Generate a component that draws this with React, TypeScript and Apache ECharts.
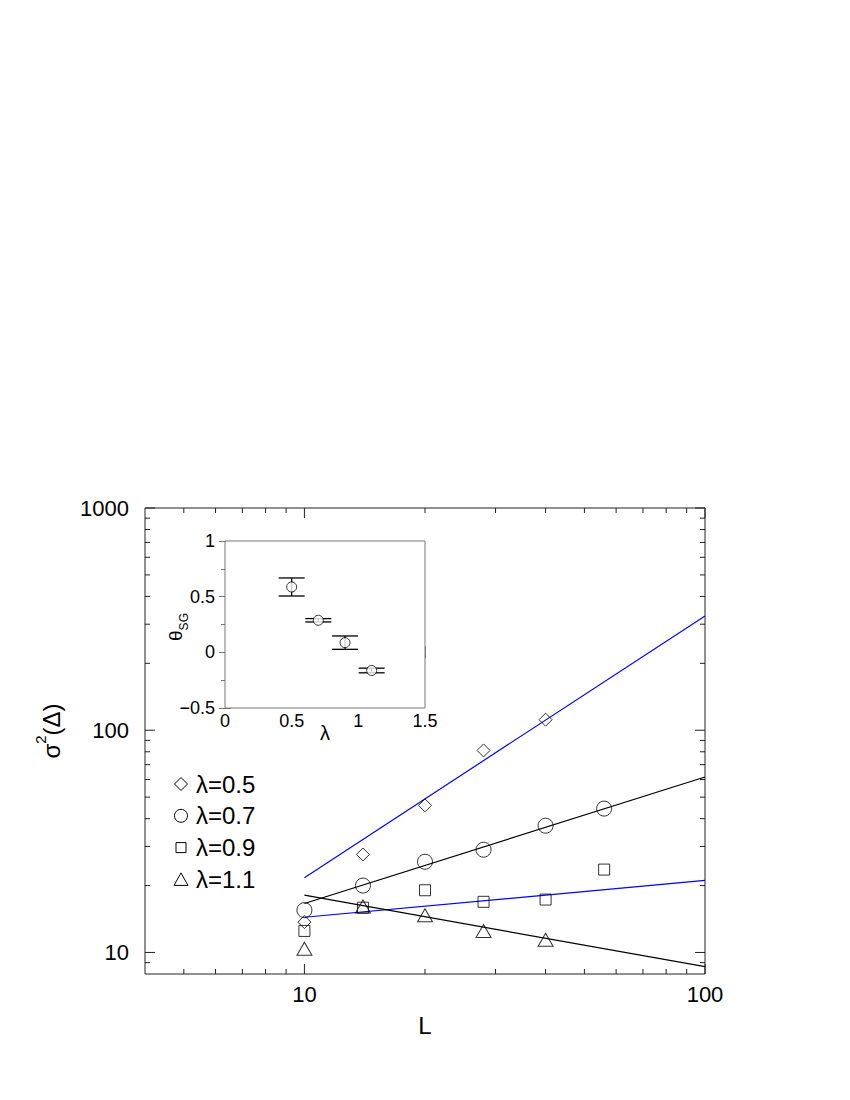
import React, { useEffect, useRef } from "react";
import * as echarts from "echarts";

// ---- data ----
const L_VALUES = [10, 14, 20, 28, 40, 56];
const SIGMA_L05 = [13.7, 27.6, 45.9, 81.1, 111.5];
const SIGMA_L07 = [15.5, 20.0, 25.6, 29.0, 37.2, 44.4];
const SIGMA_L09 = [12.5, 15.9, 19.05, 16.9, 17.3, 23.6];
const SIGMA_L11 = [10.4, 16.1, 14.7, 12.5, 11.4];

const FIT_L = [10, 100];
const FIT_L05 = [21.7, 327];
const FIT_L07 = [16.6, 61.6];
const FIT_L09 = [14.4, 21.1];
const FIT_L11 = [18.1, 8.63];

const LAMBDAS = [0.5, 0.7, 0.9, 1.1];
const THETA = [0.587, 0.288, 0.087, -0.163];
const THETA_ERR = [0.081, 0.015, 0.06, 0.021];

const SERIES_NAMES = ["λ=0.5", "λ=0.7", "λ=0.9", "λ=1.1"];

const X_RANGE = [4, 100];
const Y_RANGE = [8, 1000];
const X_MAJOR = [10, 100];
const X_MINOR = [5, 6, 7, 8, 9, 20, 30, 40, 50, 60, 70, 80, 90];
const Y_MAJOR = [10, 100, 1000];
const Y_MINOR = [9, 20, 30, 40, 50, 60, 70, 80, 90, 200, 300, 400, 500, 600, 700, 800, 900];

const FONT = "'Liberation Sans', Arial, Helvetica, sans-serif";
const TICK = "#222";
const INSET_GRAY = "#777";

function pairs(xs: number[], ys: number[]) {
  return ys.map((y, i) => [xs[i], y]);
}

function powLabel(v: number) {
  const e = Math.log10(v);
  return Math.abs(e - Math.round(e)) < 1e-6 ? String(Math.round(v)) : "";
}

function xTickSeries(values: number[], len: number) {
  return {
    type: "custom",
    xAxisIndex: 0,
    yAxisIndex: 0,
    silent: true,
    clip: false,
    z: 5,
    data: values.map((v) => [v, Y_RANGE[0]]),
    renderItem: (_p: any, api: any) => {
      const v = api.value(0);
      const b = api.coord([v, Y_RANGE[0]]);
      const t = api.coord([v, Y_RANGE[1]]);
      return {
        type: "group",
        children: [
          { type: "line", shape: { x1: b[0], y1: b[1], x2: b[0], y2: b[1] - len }, style: { stroke: TICK, lineWidth: 1 } },
          { type: "line", shape: { x1: t[0], y1: t[1], x2: t[0], y2: t[1] + len }, style: { stroke: TICK, lineWidth: 1 } },
        ],
      };
    },
  };
}

function yTickSeries(values: number[], len: number) {
  return {
    type: "custom",
    xAxisIndex: 0,
    yAxisIndex: 0,
    silent: true,
    clip: false,
    z: 5,
    data: values.map((v) => [X_RANGE[0], v]),
    renderItem: (_p: any, api: any) => {
      const v = api.value(1);
      const l = api.coord([X_RANGE[0], v]);
      const r = api.coord([X_RANGE[1], v]);
      return {
        type: "group",
        children: [
          { type: "line", shape: { x1: l[0], y1: l[1], x2: l[0] + len, y2: l[1] }, style: { stroke: TICK, lineWidth: 1 } },
          { type: "line", shape: { x1: r[0], y1: r[1], x2: r[0] - len, y2: r[1] }, style: { stroke: TICK, lineWidth: 1 } },
        ],
      };
    },
  };
}

const MARKER_STYLE = { color: "transparent", borderColor: "#000", borderWidth: 1 };

function legendGraphics() {
  const cx = 181;
  const x0 = 196;
  const y0 = 784;
  const dy = 31.8;
  const out: any[] = [];
  SERIES_NAMES.forEach((name, i) => {
    const cy = y0 + i * dy;
    const st = { fill: "none", stroke: "#000", lineWidth: 1 };
    let sym: any;
    if (i === 0) sym = { type: "polygon", shape: { points: [[cx, cy - 6.5], [cx + 6.5, cy], [cx, cy + 6.5], [cx - 6.5, cy]] }, style: st };
    else if (i === 1) sym = { type: "circle", shape: { cx, cy, r: 6.5 }, style: st };
    else if (i === 2) sym = { type: "rect", shape: { x: cx - 5, y: cy - 5, width: 10, height: 10 }, style: st };
    else sym = { type: "polygon", shape: { points: [[cx, cy - 6.5], [cx + 7, cy + 6], [cx - 7, cy + 6]] }, style: st };
    out.push(sym);
    out.push({
      type: "text",
      x: x0,
      y: cy,
      style: { text: name, fontSize: 24, fontFamily: FONT, fill: "#000", align: "left", verticalAlign: "middle" },
    });
  });
  return out;
}

export default function App() {
  const ref = useRef<HTMLDivElement>(null);
  useEffect(() => {
    if (!ref.current) return;
    const chart = echarts.init(ref.current, undefined, { renderer: "svg" });
    const mainLabel = { fontSize: 22, color: "#000", fontFamily: FONT };
    const insetLabel = { fontSize: 18, color: "#000", fontFamily: FONT };
    const insetFmt = (v: number) => String(v).replace("-", "\u2212");
    const option: any = {
      animation: false,
      backgroundColor: "#fff",
      grid: [
        { left: 145, top: 508, width: 560, height: 466, show: true, borderColor: "#222", borderWidth: 1, backgroundColor: "transparent" },
        { left: 225, top: 541, width: 200, height: 167, show: true, borderColor: INSET_GRAY, borderWidth: 1, backgroundColor: "#fff", z: 3 },
      ],
      xAxis: [
        {
          type: "log", logBase: 10, gridIndex: 0, min: X_RANGE[0], max: X_RANGE[1],
          axisLine: { show: false }, axisTick: { show: false }, splitLine: { show: false },
          axisLabel: { ...mainLabel, margin: 9, formatter: powLabel },
        },
        {
          type: "value", gridIndex: 1, min: 0, max: 1.5, interval: 0.5, position: "bottom",
          axisLine: { show: false }, splitLine: { show: false },
          axisTick: { inside: true, length: 6, lineStyle: { color: INSET_GRAY } },
          minorTick: { show: true, splitNumber: 5, length: 4, lineStyle: { color: INSET_GRAY } },
          axisLabel: { ...insetLabel, margin: 4, formatter: insetFmt },
        },
        {
          type: "value", gridIndex: 1, min: 0, max: 1.5, interval: 0.5, position: "top",
          axisLine: { show: false }, splitLine: { show: false },
          axisTick: { inside: true, length: 6, lineStyle: { color: INSET_GRAY } },
          minorTick: { show: true, splitNumber: 5, length: 4, lineStyle: { color: INSET_GRAY } },
          axisLabel: { show: false },
        },
      ],
      yAxis: [
        {
          type: "log", logBase: 10, gridIndex: 0, min: Y_RANGE[0], max: Y_RANGE[1],
          axisLine: { show: false }, axisTick: { show: false }, splitLine: { show: false },
          axisLabel: { ...mainLabel, margin: 16, formatter: powLabel },
        },
        {
          type: "value", gridIndex: 1, min: -0.5, max: 1, interval: 0.5, position: "left",
          axisLine: { show: false }, splitLine: { show: false },
          axisTick: { inside: true, length: 6, lineStyle: { color: INSET_GRAY } },
          minorTick: { show: true, splitNumber: 2, length: 4, lineStyle: { color: INSET_GRAY } },
          axisLabel: { ...insetLabel, margin: 10, formatter: insetFmt },
        },
        {
          type: "value", gridIndex: 1, min: -0.5, max: 1, interval: 0.5, position: "right",
          axisLine: { show: false }, splitLine: { show: false },
          axisTick: { inside: true, length: 6, lineStyle: { color: INSET_GRAY } },
          minorTick: { show: true, splitNumber: 2, length: 4, lineStyle: { color: INSET_GRAY } },
          axisLabel: { show: false },
        },
      ],
      graphic: [
        ...legendGraphics(),
        {
          type: "text", x: 425, y: 1025,
          style: { text: "L", fontSize: 24, fontFamily: FONT, fill: "#000", align: "center", verticalAlign: "middle" },
        },
        {
          type: "text", x: 48, y: 731, rotation: Math.PI / 2,
          style: {
            text: "{a|σ}{s|2}{a|(Δ)}",
            align: "center", verticalAlign: "middle",
            rich: {
              a: { fontSize: 24, fontFamily: FONT, fill: "#000", lineHeight: 30, verticalAlign: "bottom" },
              s: { fontSize: 15, fontFamily: FONT, fill: "#000", lineHeight: 30, verticalAlign: "top" },
            },
          },
        },
        {
          type: "text", x: 178, y: 627, rotation: Math.PI / 2, z: 10,
          style: {
            text: "{a|θ}{s|SG}",
            align: "center", verticalAlign: "middle",
            rich: {
              a: { fontSize: 19, fontFamily: FONT, fill: "#000", lineHeight: 24, verticalAlign: "top" },
              s: { fontSize: 12, fontFamily: FONT, fill: "#000", lineHeight: 24, verticalAlign: "bottom" },
            },
          },
        },
        {
          type: "text", x: 325, y: 733, z: 10,
          style: { text: "λ", fontSize: 20, fontFamily: FONT, fill: "#000", align: "center", verticalAlign: "middle" },
        },
      ],
      series: [
        xTickSeries(X_MAJOR, 10),
        xTickSeries(X_MINOR, 5),
        yTickSeries(Y_MAJOR, 10),
        yTickSeries(Y_MINOR, 5),
        { type: "line", xAxisIndex: 0, yAxisIndex: 0, data: pairs(FIT_L, FIT_L05), symbol: "none", silent: true, lineStyle: { color: "#0000ff", width: 1.2 } },
        { type: "line", xAxisIndex: 0, yAxisIndex: 0, data: pairs(FIT_L, FIT_L07), symbol: "none", silent: true, lineStyle: { color: "#000", width: 1.2 } },
        { type: "line", xAxisIndex: 0, yAxisIndex: 0, data: pairs(FIT_L, FIT_L09), symbol: "none", silent: true, lineStyle: { color: "#0000ff", width: 1.2 } },
        { type: "line", xAxisIndex: 0, yAxisIndex: 0, data: pairs(FIT_L, FIT_L11), symbol: "none", silent: true, lineStyle: { color: "#000", width: 1.2 } },
        { name: SERIES_NAMES[0], type: "scatter", xAxisIndex: 0, yAxisIndex: 0, data: pairs(L_VALUES, SIGMA_L05), symbol: "diamond", symbolSize: [13, 13], itemStyle: MARKER_STYLE, z: 4 },
        { name: SERIES_NAMES[1], type: "scatter", xAxisIndex: 0, yAxisIndex: 0, data: pairs(L_VALUES, SIGMA_L07), symbol: "circle", symbolSize: 15, itemStyle: MARKER_STYLE, z: 4 },
        { name: SERIES_NAMES[2], type: "scatter", xAxisIndex: 0, yAxisIndex: 0, data: pairs(L_VALUES, SIGMA_L09), symbol: "rect", symbolSize: 11, itemStyle: MARKER_STYLE, z: 4 },
        { name: SERIES_NAMES[3], type: "scatter", xAxisIndex: 0, yAxisIndex: 0, data: pairs(L_VALUES, SIGMA_L11), symbol: "triangle", symbolSize: [15, 13], itemStyle: MARKER_STYLE, z: 4 },
        {
          type: "custom", xAxisIndex: 1, yAxisIndex: 1, silent: true, z: 6,
          data: LAMBDAS.map((l, i) => [l, THETA[i] - THETA_ERR[i], THETA[i] + THETA_ERR[i]]),
          encode: { x: 0, y: [1, 2] },
          renderItem: (_p: any, api: any) => {
            const x = api.value(0);
            const lo = api.coord([x, api.value(1)]);
            const hi = api.coord([x, api.value(2)]);
            const hw = 13;
            const st = { stroke: "#000", lineWidth: 1.3 };
            return {
              type: "group",
              children: [
                { type: "line", shape: { x1: lo[0], y1: lo[1], x2: hi[0], y2: hi[1] }, style: st },
                { type: "line", shape: { x1: lo[0] - hw, y1: lo[1], x2: lo[0] + hw, y2: lo[1] }, style: st },
                { type: "line", shape: { x1: hi[0] - hw, y1: hi[1], x2: hi[0] + hw, y2: hi[1] }, style: st },
              ],
            };
          },
        },
        {
          type: "scatter", xAxisIndex: 1, yAxisIndex: 1, z: 7,
          data: pairs(LAMBDAS, THETA), symbol: "circle", symbolSize: 10,
          itemStyle: { color: "#fff", borderColor: "#000", borderWidth: 1 },
        },
      ],
    };
    chart.setOption(option);
    return () => chart.dispose();
  }, []);
  return <div ref={ref} style={{ position: "absolute", left: 0, top: 0, width: 850, height: 1100 }} />;
}
